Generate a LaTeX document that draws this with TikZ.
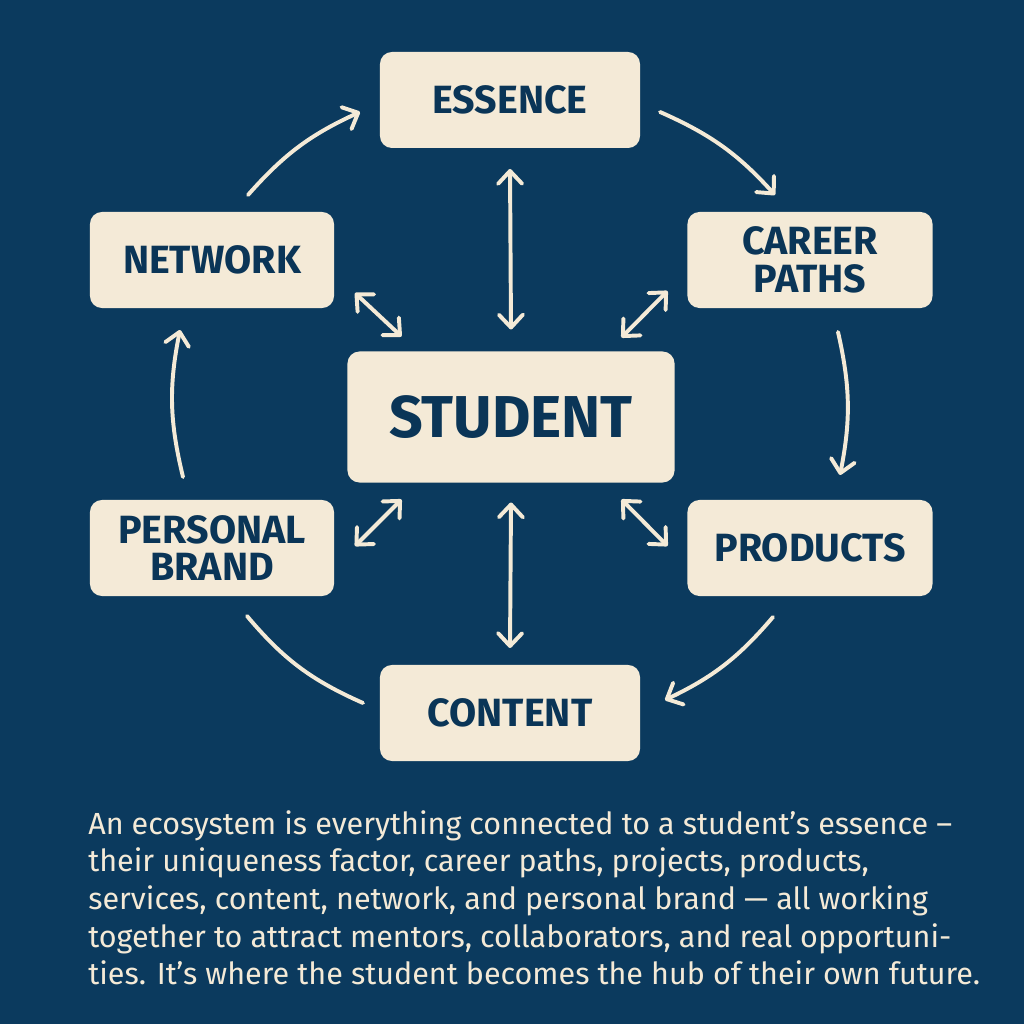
\documentclass[tikz,border=0pt]{standalone}
\usepackage{fontspec}
\setmainfont{Fira Sans}
\usepackage{xcolor}
\usepackage{tikz}
\usetikzlibrary{arrows.meta,positioning,calc}
\definecolor{navybg}{HTML}{0B3A5E}
\definecolor{cream}{HTML}{F4EAD7}
\definecolor{navytext}{HTML}{0A3557}

\begin{document}
\begin{tikzpicture}[
  x=0.025cm, y=0.025cm,
  box/.style={rectangle, fill=cream, rounded corners=0.3cm, minimum width=6.1cm, minimum height=2.4cm, outer sep=0pt, text=navytext, align=center, font=\fontsize{28}{26.5}\selectfont\bfseries},
  widebox/.style={box, minimum width=6.5cm},
  hub/.style={box, minimum width=8.175cm, minimum height=3.275cm, font=\fontsize{42}{42}\selectfont\bfseries},
  link/.style={{Straight Barb[length=0.32cm, width=0.6cm, round]}-{Straight Barb[length=0.32cm, width=0.6cm, round]}, line width=2.8pt, cream, line cap=round},
  flow/.style={-{Straight Barb[length=0.32cm, width=0.6cm, round]}, line width=2.8pt, cream, line cap=round},
  plainflow/.style={line width=2.8pt, cream, line cap=round}
]

% Background
\fill[navybg] (0,0) rectangle (1024,1024);
\useasboundingbox (0,0) rectangle (1024,1024);

% Hub
\node[hub] (stu) at (511,607) {STUDENT};

% Ring
\node[widebox] (ess) at (510,924) {ESSENCE};
\node[box, minimum width=6.125cm] (car) at (810,764) {CAREER\\PATHS};
\node[box, minimum width=6.125cm] (pro) at (810,476) {PRODUCTS};
\node[widebox] (con) at (510,311) {CONTENT};
\node[box] (per) at (212,476) {PERSONAL\\BRAND};
\node[box] (net) at (212,764) {NETWORK};

% Spokes
\draw[link] ([shift={(0,-21)}]ess.south) -- ([shift={(0,22)}]stu.north);
\draw[link] ([shift={(0,17)}]con.north) -- ([shift={(0,-20)}]stu.south);
\draw[link] ([shift={(21,15)}]net.south east) -- ([shift={(54,15)}]stu.north west);
\draw[link] ([shift={(-20,17)}]car.south west) -- ([shift={(-53,14)}]stu.north east);
\draw[link] ([shift={(21,2)}]per.east) -- ([shift={(54,-17)}]stu.south west);
\draw[link] ([shift={(-20,2)}]pro.west) -- ([shift={(-53,-17)}]stu.south east);

% Outer loop
\draw[flow] ([shift={(36,17)}]net.north) to[bend left=12] ([shift={(-20,-12)}]ess.west);
\draw[flow] ([shift={(20,-12)}]ess.east) to[bend left=12] ([shift={(-35,17)}]car.north);
\draw[flow] ([shift={(28,-24)}]car.south) to[bend left=12] ([shift={(30,25)}]pro.north);
\draw[flow] ([shift={(-37,-21)}]pro.south) to[bend left=12] ([shift={(25,13)}]con.east);
\draw[plainflow] ([shift={(-17,10)}]con.west) to[bend left=13] ([shift={(35,-20)}]per.south);
\draw[flow] ([shift={(-29,23)}]per.north) to[bend left=12.5] ([shift={(-32,-22)}]net.south);

% Caption
\node[anchor=north west, align=left, inner sep=0pt, text=cream, font=\fontsize{21.7}{26.8}\selectfont] (caption) at (88,214) {An ecosystem is everything connected to a student’s essence –\\their uniqueness factor, career paths, projects, products,\\services, content, network, and personal brand — all working\\together to attract mentors, collaborators, and real opportuni-\\ties. It’s where the student becomes the hub of their own future.};

\end{tikzpicture}
\end{document}
